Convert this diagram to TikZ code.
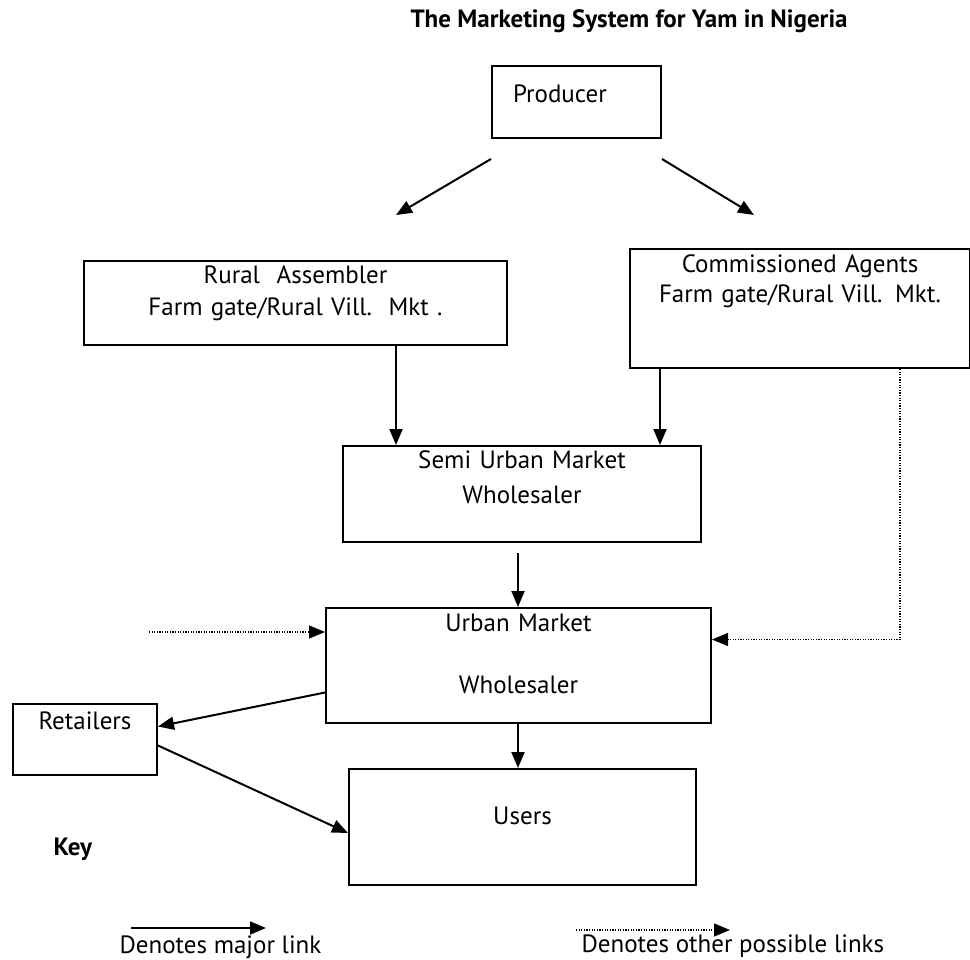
\documentclass[tikz,border=0pt]{standalone}
\usepackage{fontspec}
\setmainfont{PT Sans}
\usetikzlibrary{arrows.meta,positioning}

\begin{document}
\begin{tikzpicture}[x=1pt, y=-1pt, >={Triangle[length=16pt,width=13pt]}, ->,
  every node/.style={font=\fontsize{25}{32}\selectfont},
  box/.style={draw, line width=2pt, inner sep=0pt, anchor=north west, align=center},
  major/.style={->, line width=2pt},
  other/.style={->, line width=1.2pt, dash pattern=on 1.2pt off 1.4pt}]
\useasboundingbox (0,0) rectangle (970,960);
\node (title) [anchor=base west, font=\fontsize{25}{32}\selectfont\bfseries] at (407,28) {The Marketing System for Yam in Nigeria};
\node (prod) [box, align=left, text width=127pt, inner xsep=21pt, text height=37pt, text depth=35pt] at (491,65) {Producer};
\node (rural) [box, text width=423pt, text height=23pt, text depth=61pt] at (83,260) {Rural\ \ Assembler\\Farm gate/Rural Vill.\ \ Mkt .};
\node (comm) [box, text width=340pt, text height=24pt, text depth=95pt] at (629,248) {Commissioned Agents\\[-2pt]Farm gate/Rural Vill. Mkt.};
\node (semi) [box, text width=358pt, text height=22pt, text depth=74pt] at (342,445) {Semi Urban Market\\[3pt]Wholesaler};
\node (urban) [box, text width=385pt, text height=23pt, text depth=92pt] at (325,607) {Urban Market\\[30pt]Wholesaler};
\node (retail) [box, text width=144pt, text height=25pt, text depth=46pt] at (12,703) {Retailers};
\node (users) [box, text width=347pt, text height=55pt, text depth=61pt] at (348,768) {Users};
\node (key) [anchor=base west, font=\fontsize{25}{32}\selectfont\bfseries] at (50,855) {Key};
\node (majortxt) [anchor=base west] at (116,953) {Denotes major link};
\node (othertxt) [anchor=base west] at (578,952) {Denotes other possible links};

\coordinate (colA) at (396,0);
\coordinate (colB) at (660,0);
\coordinate (colC) at (518,0);
\coordinate (colD) at (900,0);
\coordinate (p1) at ([yshift=-20pt]prod.south west);
\coordinate (p2) at ([yshift=-20pt]prod.south east);
\coordinate (r1) at (396,215);
\coordinate (c1) at (754,215);
\coordinate (semiout) at (518,553);
\coordinate (o1) at (149,632);
\coordinate (k1) at (131,928);
\coordinate (k2) at (266,928);
\coordinate (k3) at (576,930);
\coordinate (k4) at (730,930);

\path (p1) edge[major] (r1);
\path (p2) edge[major] (c1);
\path (rural.south -| colA) edge[major] (semi.north -| colA);
\path (comm.south -| colB) edge[major] (semi.north -| colB);
\path (semiout) edge[major] (urban.north -| colC);
\path (urban.south -| colC) edge[major] (users.north -| colC);
\path ([yshift=-27pt]urban.west) edge[major] ([yshift=13pt]retail.east);
\path ([yshift=-6pt]retail.east) edge[major] ([yshift=-6pt]users.west);
\draw[other] (comm.south -| colD) |- ([yshift=26pt]urban.east);
\path (o1) edge[other] (o1 -| urban.west);
\path (k1) edge[major] (k2);
\path (k3) edge[other] (k4);
\end{tikzpicture}
\end{document}
